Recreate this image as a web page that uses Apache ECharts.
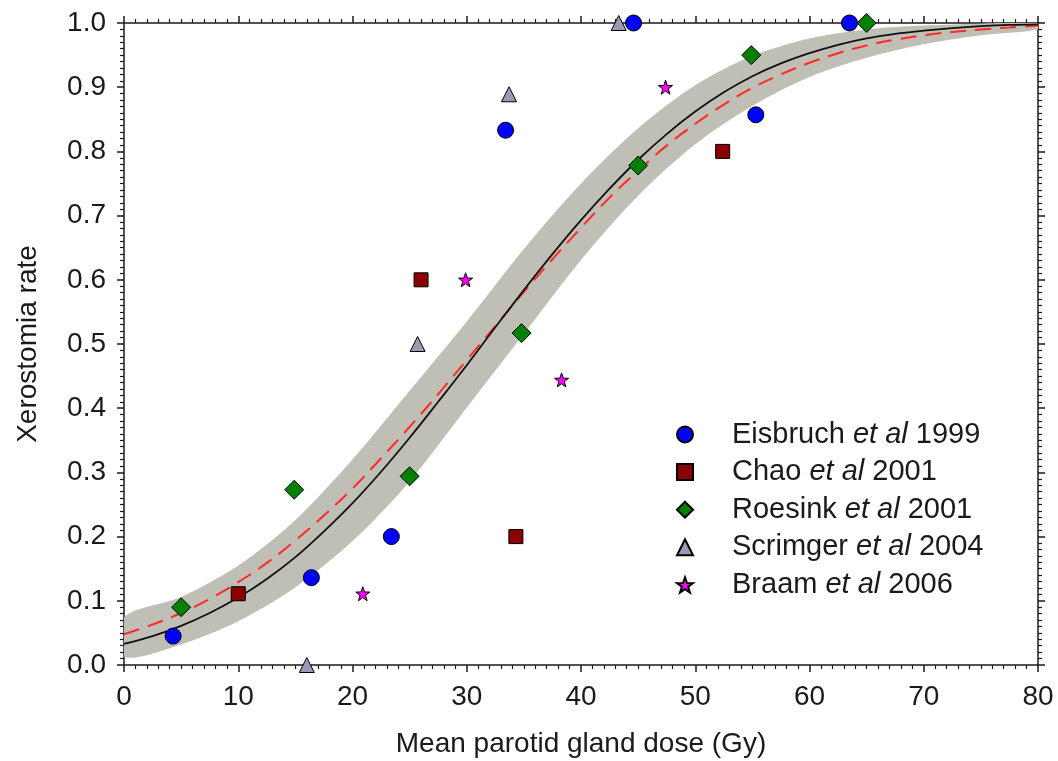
<!DOCTYPE html>
<html>
<head>
<meta charset="utf-8">
<title>Xerostomia rate vs mean parotid gland dose</title>
<script src="https://cdn.jsdelivr.net/npm/echarts@6/dist/echarts.min.js"></script>
<style>
  html, body { margin: 0; padding: 0; background: #ffffff; }
  #chart { width: 1058px; height: 761px; }
</style>
</head>
<body>
<div id="chart"></div>
<script>
// Clinical data points: mean parotid dose (Gy) and observed xerostomia rate
const eisbruchDose = [4.3, 16.4, 23.4, 33.4, 44.6, 55.3, 63.5];
const eisbruchRate = [0.045, 0.136, 0.200, 0.833, 1.000, 0.857, 1.000];

const chaoDose = [10.0, 26.0, 34.3, 52.4];
const chaoRate = [0.111, 0.600, 0.200, 0.800];

const roesinkDose = [5.0, 14.9, 25.0, 34.8, 45.0, 54.9, 65.0];
const roesinkRate = [0.090, 0.273, 0.294, 0.517, 0.778, 0.950, 1.000];

const scrimgerDose = [16.0, 25.7, 33.7, 43.3];
const scrimgerRate = [0.000, 0.500, 0.889, 1.000];

const braamDose = [20.9, 29.9, 38.3, 47.4];
const braamRate = [0.111, 0.600, 0.444, 0.900];

// Dose-response curves sampled every 2.5 Gy
const curveDose = [0, 2.5, 5, 7.5, 10, 12.5, 15, 17.5, 20, 22.5, 25, 27.5, 30, 32.5, 35, 37.5,
  40, 42.5, 45, 47.5, 50, 52.5, 55, 57.5, 60, 62.5, 65, 67.5, 70, 72.5, 75, 77.5, 80];
const fitSolid = [0.033, 0.045, 0.061, 0.081, 0.105, 0.134, 0.168, 0.208, 0.252, 0.301, 0.354,
  0.410, 0.467, 0.526, 0.584, 0.640, 0.693, 0.742, 0.787, 0.827, 0.862, 0.892, 0.917, 0.937,
  0.953, 0.966, 0.976, 0.983, 0.988, 0.992, 0.995, 0.997, 0.998];
const fitDashed = [0.048, 0.063, 0.081, 0.103, 0.129, 0.159, 0.194, 0.233, 0.275, 0.322, 0.371,
  0.422, 0.475, 0.528, 0.581, 0.632, 0.681, 0.728, 0.770, 0.809, 0.843, 0.873, 0.899, 0.920,
  0.938, 0.953, 0.965, 0.974, 0.981, 0.986, 0.990, 0.993, 0.996];

// Confidence band sampled every 5 Gy
const bandDose = [0, 5, 10, 15, 20, 25, 30, 35, 40, 45, 50, 55, 60, 65, 70, 75, 80];
const bandLower = [0.013, 0.032, 0.068, 0.121, 0.193, 0.286, 0.401, 0.516, 0.631, 0.731, 0.811,
  0.871, 0.916, 0.946, 0.967, 0.981, 0.990];
const bandUpper = [0.074, 0.106, 0.155, 0.226, 0.320, 0.427, 0.535, 0.648, 0.750, 0.836, 0.903,
  0.949, 0.976, 0.990, 0.996, 0.999, 1.000];

const xTicks = [0, 10, 20, 30, 40, 50, 60, 70, 80];
const yTicks = [0.0, 0.1, 0.2, 0.3, 0.4, 0.5, 0.6, 0.7, 0.8, 0.9, 1.0];

const FONT = '"Liberation Sans", Arial, Helvetica, sans-serif';
const INK = '#1a1a1a';
const STAR = 'path://M0,-10 L2.35,-3.24 L9.51,-3.09 L3.8,1.24 L5.88,8.09 L0,4 L-5.88,8.09 L-3.8,1.24 L-9.51,-3.09 L-2.35,-3.24 Z';

const pairs = (xs, ys) => xs.map((x, i) => [x, ys[i]]);

function frameAxis(kind, position, showLabels) {
  const ticks = kind === 'x' ? xTicks : yTicks;
  return {
    type: 'value',
    position: position,
    min: ticks[0],
    max: ticks[ticks.length - 1],
    interval: kind === 'x' ? 10 : 0.1,
    axisLine: { show: true, onZero: false, lineStyle: { color: INK, width: 1.5 } },
    axisTick: { show: true, inside: false, length: 7, lineStyle: { color: INK, width: 1.5 } },
    minorTick: { show: true, splitNumber: 10, length: 4, lineStyle: { color: INK, width: 1.2 } },
    splitLine: { show: false },
    minorSplitLine: { show: false },
    axisLabel: {
      show: showLabels,
      margin: 18,
      fontFamily: FONT,
      fontSize: 28,
      color: INK,
      formatter: kind === 'x' ? (v => String(v)) : (v => v.toFixed(1))
    }
  };
}

const xBottom = frameAxis('x', 'bottom', true);
xBottom.name = 'Mean parotid gland dose (Gy)';
xBottom.nameLocation = 'middle';
xBottom.nameGap = 65;
xBottom.nameTextStyle = { fontFamily: FONT, fontSize: 28, color: INK };

const yLeft = frameAxis('y', 'left', true);
yLeft.name = 'Xerostomia rate';
yLeft.nameLocation = 'middle';
yLeft.nameGap = 82;
yLeft.nameTextStyle = { fontFamily: FONT, fontSize: 28, color: INK };

function pointSeries(name, xs, ys, symbol, size, color) {
  return {
    name: name,
    type: 'scatter',
    symbol: symbol,
    symbolSize: size,
    clip: false,
    z: 5,
    itemStyle: { color: color, borderColor: '#000000', borderWidth: 1, opacity: 1 },
    data: pairs(xs, ys)
  };
}

// Shaded band: upper edge left-to-right, lower edge back right-to-left
function renderBand(params, api) {
  const top = bandDose.map((d, i) => api.coord([d, bandUpper[i]]));
  const bottom = bandDose.map((d, i) => api.coord([d, bandLower[i]])).reverse();
  return {
    type: 'polygon',
    shape: { points: top.concat(bottom), smooth: 0.3 },
    style: { fill: '#bfbfb6', stroke: null }
  };
}

const option = {
  backgroundColor: '#ffffff',
  animation: false,
  grid: { left: 124, right: 20, top: 23, bottom: 96, outerBoundsMode: 'none' },
  xAxis: [xBottom, frameAxis('x', 'top', false)],
  yAxis: [yLeft, frameAxis('y', 'right', false)],
  legend: {
    orient: 'vertical',
    left: 671,
    top: 415,
    itemWidth: 16,
    itemHeight: 16,
    itemGap: 8.6,
    data: ['Eisbruch et al 1999', 'Chao et al 2001', 'Roesink et al 2001',
      'Scrimger et al 2004', 'Braam et al 2006'],
    formatter: name => '{n|' + name.replace(' et al ', ' }{i|et al}{n| ') + '}',
    textStyle: {
      padding: [0, 0, 0, 34],
      rich: {
        n: { fontFamily: FONT, fontSize: 29, color: INK, lineHeight: 30 },
        i: { fontFamily: FONT, fontSize: 29, color: INK, fontStyle: 'italic', lineHeight: 30 }
      }
    }
  },
  series: [
    {
      name: 'band',
      type: 'custom',
      silent: true,
      clip: true,
      z: 1,
      data: [[0, 0]],
      renderItem: renderBand
    },
    {
      name: 'fit-dashed',
      type: 'line',
      smooth: 0.4,
      showSymbol: false,
      silent: true,
      z: 2,
      lineStyle: { color: '#ff2a2a', width: 2, type: [16, 9] },
      data: pairs(curveDose, fitDashed)
    },
    {
      name: 'fit-solid',
      type: 'line',
      smooth: 0.4,
      showSymbol: false,
      silent: true,
      z: 3,
      lineStyle: { color: '#111111', width: 1.8 },
      data: pairs(curveDose, fitSolid)
    },
    pointSeries('Eisbruch et al 1999', eisbruchDose, eisbruchRate, 'circle', 16, '#0000ff'),
    pointSeries('Chao et al 2001', chaoDose, chaoRate, 'rect', 14, '#8b0000'),
    pointSeries('Roesink et al 2001', roesinkDose, roesinkRate, 'diamond', 19, '#008000'),
    pointSeries('Scrimger et al 2004', scrimgerDose, scrimgerRate, 'triangle', 15, '#9a9ab6'),
    pointSeries('Braam et al 2006', braamDose, braamRate, STAR, 14, '#ff00ff')
  ]
};

const chart = echarts.init(document.getElementById('chart'), null, { renderer: 'canvas' });
chart.setOption(option);
</script>
</body>
</html>
